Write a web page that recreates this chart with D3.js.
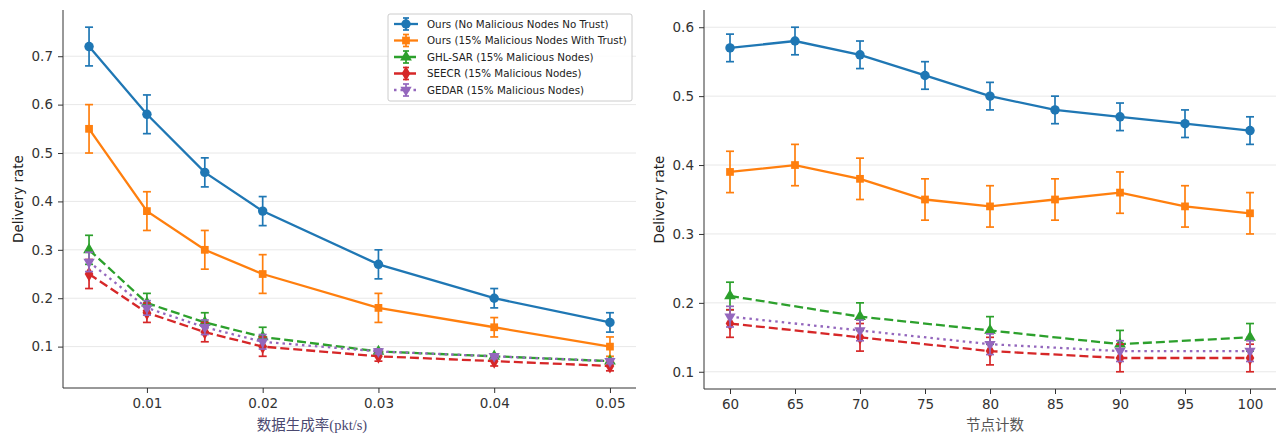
<!DOCTYPE html>
<meta charset="utf-8">
<style>
body { margin: 0; background: #fff; font-family: "DejaVu Sans", sans-serif; }
.tick text { font-size: 13.5px; fill: #333; font-family: "DejaVu Sans", sans-serif; }
.tick line { stroke: #333; }
.domain { stroke: #333; }
.grid line { stroke: #e8e8e8; stroke-width: 1; }
.legend text { font-size: 10.3px; fill: #222; }
</style>
<body>
<svg id="svg" width="1277" height="437"></svg>
<script src="https://cdn.jsdelivr.net/npm/d3@7/dist/d3.min.js"></script>
<script>
// left chart: data generation rate
const rateX = [0.005, 0.01, 0.015, 0.02, 0.03, 0.04, 0.05];
const rateTicks = [0.01, 0.02, 0.03, 0.04, 0.05];
const rateOurs = [0.72, 0.58, 0.46, 0.38, 0.27, 0.20, 0.15];
const rateOursErr = [0.04, 0.04, 0.03, 0.03, 0.03, 0.02, 0.02];
const rateTrust = [0.55, 0.38, 0.30, 0.25, 0.18, 0.14, 0.10];
const rateTrustErr = [0.05, 0.04, 0.04, 0.04, 0.03, 0.02, 0.02];
const rateGhl = [0.30, 0.19, 0.15, 0.12, 0.09, 0.08, 0.07];
const rateGhlErr = [0.03, 0.02, 0.02, 0.02, 0.005, 0.005, 0.005];
const rateSeecr = [0.25, 0.17, 0.13, 0.10, 0.08, 0.07, 0.06];
const rateSeecrErr = [0.03, 0.02, 0.02, 0.02, 0.01, 0.01, 0.01];
const rateGedar = [0.275, 0.18, 0.14, 0.11, 0.09, 0.08, 0.07];
const rateGedarErr = [0.02, 0.015, 0.015, 0.015, 0.005, 0.005, 0.005];

// right chart: node count
const nodeX = [60, 65, 70, 75, 80, 85, 90, 95, 100];
const nodeXSparse = [60, 70, 80, 90, 100];
const nodeOurs = [0.57, 0.58, 0.56, 0.53, 0.50, 0.48, 0.47, 0.46, 0.45];
const nodeOursErr = [0.02, 0.02, 0.02, 0.02, 0.02, 0.02, 0.02, 0.02, 0.02];
const nodeTrust = [0.39, 0.40, 0.38, 0.35, 0.34, 0.35, 0.36, 0.34, 0.33];
const nodeTrustErr = [0.03, 0.03, 0.03, 0.03, 0.03, 0.03, 0.03, 0.03, 0.03];
const nodeGhl = [0.21, 0.18, 0.16, 0.14, 0.15];
const nodeGhlErr = [0.02, 0.02, 0.02, 0.02, 0.02];
const nodeSeecr = [0.17, 0.15, 0.13, 0.12, 0.12];
const nodeSeecrErr = [0.02, 0.02, 0.02, 0.02, 0.02];
const nodeGedar = [0.18, 0.16, 0.14, 0.13, 0.13];
const nodeGedarErr = [0.015, 0.015, 0.015, 0.015, 0.015];

const seriesNames = ["Ours (No Malicious Nodes No Trust)", "Ours (15% Malicious Nodes With Trust)",
  "GHL-SAR (15% Malicious Nodes)", "SEECR (15% Malicious Nodes)", "GEDAR (15% Malicious Nodes)"];
const colors = ["#1f77b4", "#ff7f0e", "#2ca02c", "#d62728", "#9467bd"];
const dashes = [null, null, "9,4", "9,4", "2.5,4"];
const symbols = [d3.symbolCircle, d3.symbolSquare, d3.symbolTriangle, d3.symbolDiamond, d3.symbolTriangle];
const symRot = [0, 0, 0, 0, 180];
const symSize = [70, 60, 60, 65, 55];

const svg = d3.select("#svg");

function drawPanel(opt) {
  const g = svg.append("g");
  const x = d3.scaleLinear().domain(opt.xDomain).range([opt.left, opt.right]);
  const y = d3.scaleLinear().domain(opt.yDomain).range([opt.bottom, opt.top]);

  // horizontal grid
  g.append("g").attr("class", "grid")
    .selectAll("line").data(opt.yTicks).enter().append("line")
    .attr("x1", opt.left).attr("x2", opt.right)
    .attr("y1", d => y(d)).attr("y2", d => y(d));

  g.append("g").attr("transform", "translate(0," + opt.bottom + ")")
    .call(d3.axisBottom(x).tickValues(opt.xTicks).tickFormat(opt.xFmt).tickSize(5).tickPadding(5))
    .call(a => a.select(".domain").attr("d", "M" + opt.left + ",0H" + opt.right));
  g.append("g").attr("transform", "translate(" + opt.left + ",0)")
    .call(d3.axisLeft(y).tickValues(opt.yTicks).tickFormat(d3.format(".1f")).tickSize(5).tickPadding(5))
    .call(a => a.select(".domain").attr("d", "M0," + opt.bottom + "V" + opt.top));

  opt.series.forEach((s, k) => {
    const pts = s.xs.map((xv, i) => ({x: xv, y: s.ys[i], e: s.es[i]}));
    const sg = g.append("g");
    sg.append("path").datum(pts)
      .attr("fill", "none").attr("stroke", colors[k]).attr("stroke-width", 2.3)
      .attr("stroke-dasharray", dashes[k])
      .attr("d", d3.line().x(d => x(d.x)).y(d => y(d.y)));
    const eb = sg.selectAll(".eb").data(pts).enter().append("g")
      .attr("stroke", colors[k]).attr("stroke-width", 1.7);
    eb.append("line").attr("x1", d => x(d.x)).attr("x2", d => x(d.x))
      .attr("y1", d => y(d.y - d.e)).attr("y2", d => y(d.y + d.e));
    eb.append("line").attr("x1", d => x(d.x) - 4).attr("x2", d => x(d.x) + 4)
      .attr("y1", d => y(d.y - d.e)).attr("y2", d => y(d.y - d.e));
    eb.append("line").attr("x1", d => x(d.x) - 4).attr("x2", d => x(d.x) + 4)
      .attr("y1", d => y(d.y + d.e)).attr("y2", d => y(d.y + d.e));
    sg.selectAll(".mk").data(pts).enter().append("path")
      .attr("d", d3.symbol().type(symbols[k]).size(symSize[k]))
      .attr("fill", colors[k])
      .attr("transform", d => "translate(" + x(d.x) + "," + y(d.y) + ") rotate(" + symRot[k] + ")");
  });

  svg.append("text")
    .attr("transform", "translate(" + opt.ylabX + "," + ((opt.top + opt.bottom) / 2) + ") rotate(-90)")
    .attr("text-anchor", "middle").attr("font-size", 13.5).attr("fill", "#222")
    .text("Delivery rate");
  svg.append("text")
    .attr("x", opt.xlabX).attr("y", 430)
    .attr("text-anchor", "middle").attr("font-size", 14.5)
    .attr("font-family", opt.xlabFont).attr("fill", opt.xlabColor)
    .text(opt.xlab);
}

drawPanel({
  left: 63, right: 636, top: 10, bottom: 388,
  xDomain: [0.00275, 0.05225], yDomain: [0.0145, 0.7955],
  xTicks: rateTicks, xFmt: d3.format(".2f"), yTicks: [0.1, 0.2, 0.3, 0.4, 0.5, 0.6, 0.7],
  ylabX: 23, xlabX: 312, xlab: "数据生成率(pkt/s)",
  xlabFont: "'Liberation Serif', 'Noto Sans CJK SC', serif", xlabColor: "#4a4870",
  series: [
    {xs: rateX, ys: rateOurs, es: rateOursErr},
    {xs: rateX, ys: rateTrust, es: rateTrustErr},
    {xs: rateX, ys: rateGhl, es: rateGhlErr},
    {xs: rateX, ys: rateSeecr, es: rateSeecrErr},
    {xs: rateX, ys: rateGedar, es: rateGedarErr}
  ]
});

drawPanel({
  left: 704, right: 1276, top: 10, bottom: 389,
  xDomain: [58, 102], yDomain: [0.075, 0.625],
  xTicks: nodeX, xFmt: d3.format("d"), yTicks: [0.1, 0.2, 0.3, 0.4, 0.5, 0.6],
  ylabX: 664, xlabX: 995, xlab: "节点计数",
  xlabFont: "'Noto Sans CJK SC', sans-serif", xlabColor: "#555",
  series: [
    {xs: nodeX, ys: nodeOurs, es: nodeOursErr},
    {xs: nodeX, ys: nodeTrust, es: nodeTrustErr},
    {xs: nodeXSparse, ys: nodeGhl, es: nodeGhlErr},
    {xs: nodeXSparse, ys: nodeSeecr, es: nodeSeecrErr},
    {xs: nodeXSparse, ys: nodeGedar, es: nodeGedarErr}
  ]
});

// legend in left panel
const lg = svg.append("g").attr("class", "legend").attr("transform", "translate(388,14)");
lg.append("rect").attr("width", 244).attr("height", 87).attr("rx", 2)
  .attr("fill", "#fff").attr("fill-opacity", 0.85).attr("stroke", "#ccc");
const item = lg.selectAll(".it").data(seriesNames).enter().append("g")
  .attr("transform", (d, i) => "translate(0," + (10 + i * 16.5) + ")");
item.append("line").attr("x1", 6).attr("x2", 30).attr("y1", 0).attr("y2", 0)
  .attr("stroke", (d, i) => colors[i]).attr("stroke-width", 2.3)
  .attr("stroke-dasharray", (d, i) => dashes[i]);
item.append("line").attr("x1", 18).attr("x2", 18).attr("y1", -6).attr("y2", 6)
  .attr("stroke", (d, i) => colors[i]).attr("stroke-width", 1.7);
item.append("line").attr("x1", 15).attr("x2", 21).attr("y1", 6).attr("y2", 6)
  .attr("stroke", (d, i) => colors[i]).attr("stroke-width", 1.7);
item.append("line").attr("x1", 15).attr("x2", 21).attr("y1", -6).attr("y2", -6)
  .attr("stroke", (d, i) => colors[i]).attr("stroke-width", 1.7);
item.append("path")
  .attr("d", (d, i) => d3.symbol().type(symbols[i]).size(symSize[i])())
  .attr("fill", (d, i) => colors[i])
  .attr("transform", (d, i) => "translate(18,0) rotate(" + symRot[i] + ")");
item.append("text").attr("x", 39).attr("y", 0).attr("dy", "0.35em").text(d => d);
</script>
</body>
